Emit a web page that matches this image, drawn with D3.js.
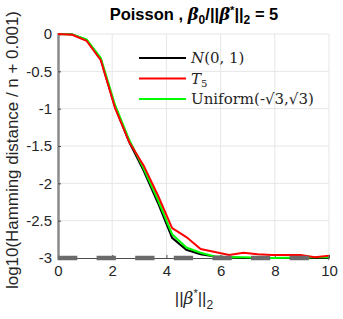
<!DOCTYPE html>
<html>
<head>
<meta charset="utf-8">
<script src="https://cdn.jsdelivr.net/npm/d3@7"></script>
<style>
  body { margin: 0; background: #fff; }
  svg { display: block; font-family: "Liberation Sans", Arial, sans-serif; }
</style>
</head>
<body>
<div id="chart"></div>
<script>
// x = linspace(0, 10, 20)
const xVals = d3.range(20).map(i => i * 10 / 19);
const normalVals = [0, -0.005, -0.08, -0.34, -0.98, -1.45, -1.83, -2.26, -2.73, -2.89, -2.95, -2.98, -2.99, -3, -3, -3, -3, -3, -3, -3];
const t5Vals = [0, -0.01, -0.09, -0.35, -0.99, -1.45, -1.76, -2.16, -2.60, -2.72, -2.88, -2.92, -2.96, -2.93, -2.95, -2.96, -2.96, -2.96, -2.99, -2.97];
const uniformVals = [0, -0.005, -0.07, -0.32, -0.95, -1.42, -1.80, -2.22, -2.68, -2.86, -2.93, -2.98, -2.99, -2.99, -2.995, -3, -2.995, -2.995, -2.99, -2.99];
const xTicks = [0, 2, 4, 6, 8, 10];
const yTicks = [0, -0.5, -1, -1.5, -2, -2.5, -3];

const series = [
  { name: "normal", values: normalVals, color: "#000000" },
  { name: "t5", values: t5Vals, color: "#ff0000" },
  { name: "uniform", values: uniformVals, color: "#00ff00" }
];

const width = 343, height = 319;
const mLeft = 58, mRight = 329, mTop = 34, mBottom = 258;

const x = d3.scaleLinear().domain([0, 10]).range([mLeft, mRight]);
const y = d3.scaleLinear().domain([-3, 0]).range([mBottom, mTop]);

const svg = d3.select("#chart").append("svg")
  .attr("width", width)
  .attr("height", height);

// grid
svg.append("g").selectAll("line")
  .data(xTicks.filter(d => d > 0))
  .join("line")
  .attr("x1", d => x(d)).attr("x2", d => x(d))
  .attr("y1", mTop).attr("y2", mBottom)
  .attr("stroke", "#e6e6e6").attr("stroke-width", 1);
svg.append("g").selectAll("line")
  .data(yTicks.filter(d => d > -3))
  .join("line")
  .attr("x1", mLeft).attr("x2", mRight)
  .attr("y1", d => y(d)).attr("y2", d => y(d))
  .attr("stroke", "#e6e6e6").attr("stroke-width", 1);

// axes
const xAxis = svg.append("g")
  .attr("transform", `translate(0,${mBottom})`)
  .call(d3.axisBottom(x).tickValues(xTicks).tickSize(-3).tickPadding(7).tickFormat(d3.format("d")));
const yAxis = svg.append("g")
  .attr("transform", `translate(${mLeft},0)`)
  .call(d3.axisLeft(y).tickValues(yTicks).tickSize(-3).tickPadding(6).tickFormat(d => d === 0 ? "0" : String(d)));

[xAxis, yAxis].forEach(g => {
  g.select(".domain").attr("stroke", "#4d4d4d").attr("stroke-width", 1);
  g.selectAll(".tick line").attr("stroke", "#4d4d4d");
  g.selectAll(".tick text")
    .attr("fill", "#262626")
    .style("font-size", "15px")
    .style("font-family", "Liberation Sans, Arial, sans-serif");
});
yAxis.select(".domain").attr("stroke", "#8a8a8a").attr("stroke-width", 2.5);

// series lines
const line = d3.line()
  .x((d, i) => x(xVals[i]))
  .y(d => y(d));

svg.append("g").selectAll("path")
  .data([series[0], series[2], series[1]])
  .join("path")
  .attr("d", d => line(d.values))
  .attr("fill", "none")
  .attr("stroke", d => d.color)
  .attr("stroke-width", 2);

// reference line at -3
svg.append("line")
  .attr("x1", x(0)).attr("x2", x(10))
  .attr("y1", y(-3)).attr("y2", y(-3))
  .attr("stroke", "#6b6b6b")
  .attr("stroke-width", 4.5)
  .attr("stroke-dasharray", "19.3,19.3");

// legend
const legendColors = ["#000000", "#ff0000", "#00ff00"];
const lg = svg.append("g");
const legY = [58, 78.5, 99];
legendColors.forEach((c, i) => {
  lg.append("line")
    .attr("x1", 139).attr("x2", 186)
    .attr("y1", legY[i]).attr("y2", legY[i])
    .attr("stroke", c).attr("stroke-width", 2);
});
const serif = "'DejaVu Serif', 'Liberation Serif', serif";
const t1 = lg.append("text").attr("x", 191).attr("y", legY[0] + 5)
  .style("font-family", serif).style("font-size", "15px").attr("fill", "#262626");
t1.append("tspan").style("font-style", "italic").text("N");
t1.append("tspan").text("(0, 1)");
const t2 = lg.append("text").attr("x", 191).attr("y", legY[1] + 5)
  .style("font-family", serif).style("font-size", "15px").attr("fill", "#262626");
t2.append("tspan").style("font-style", "italic").text("T");
t2.append("tspan").attr("dy", 3).style("font-size", "10px").text("5");
lg.append("text").attr("x", 191).attr("y", legY[2] + 5)
  .style("font-family", serif).style("font-size", "15px").attr("fill", "#262626")
  .text("Uniform(-√3,√3)");

// title
const title = svg.append("text")
  .attr("x", 194).attr("y", 20)
  .attr("text-anchor", "middle")
  .attr("fill", "#000")
  .style("font-size", "16.5px")
  .style("font-weight", "bold");
title.append("tspan").text("Poisson , ");
title.append("tspan").style("font-style", "italic").style("font-family", serif).text("β");
title.append("tspan").attr("dy", 4).style("font-size", "12px").text("0");
title.append("tspan").attr("dy", -4).text("/||");
title.append("tspan").style("font-style", "italic").style("font-family", serif).text("β");
title.append("tspan").attr("dy", -6).style("font-size", "11px").text("*");
title.append("tspan").attr("dy", 6).text("||");
title.append("tspan").attr("dy", 4).style("font-size", "12px").text("2");
title.append("tspan").attr("dy", -4).text(" = 5");

// x label
const xl = svg.append("text")
  .attr("x", 194).attr("y", 304)
  .attr("text-anchor", "middle")
  .attr("fill", "#262626")
  .style("font-size", "17px");
xl.append("tspan").text("||");
xl.append("tspan").style("font-style", "italic").style("font-family", serif).text("β");
xl.append("tspan").attr("dy", -7).style("font-size", "11px").text("*");
xl.append("tspan").attr("dy", 7).text("||");
xl.append("tspan").attr("dy", 5).style("font-size", "12px").text("2");

// y label
svg.append("text")
  .attr("transform", `translate(18,150) rotate(-90)`)
  .attr("text-anchor", "middle")
  .attr("fill", "#262626")
  .style("font-size", "16px")
  .attr("textLength", 278)
  .attr("lengthAdjust", "spacingAndGlyphs")
  .text("log10(Hamming distance / n + 0.001)");
</script>
</body>
</html>
